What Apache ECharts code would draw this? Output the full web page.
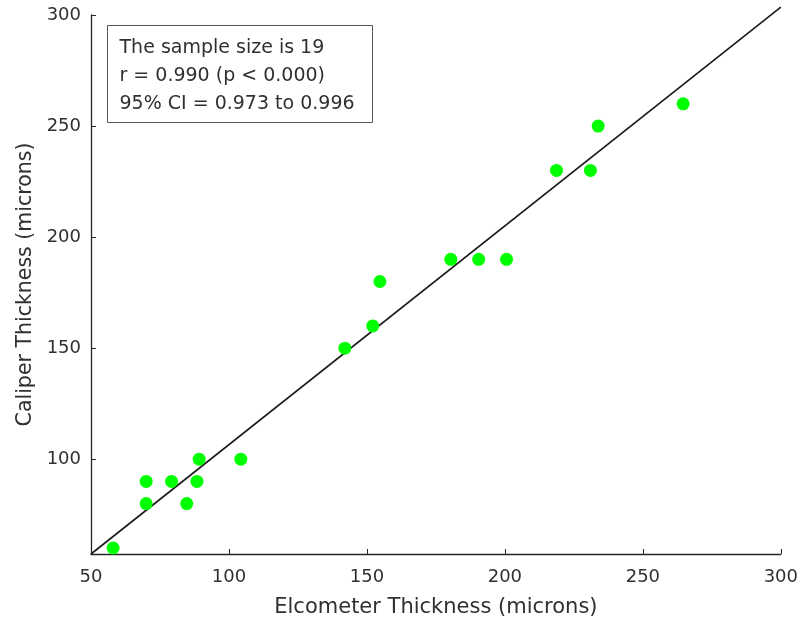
<!DOCTYPE html>
<html>
<head>
<meta charset="utf-8">
<script src="https://cdn.jsdelivr.net/npm/echarts@6/dist/echarts.min.js"></script>
<style>
html,body{margin:0;padding:0;background:#fff;}
#chart{width:801px;height:623px;}
</style>
</head>
<body>
<div id="chart"></div>
<script>
// Data
var elcometer = [58, 70, 70, 79.2, 84.7, 88.4, 89.2, 104.3, 142, 152.1, 154.7, 180.4, 190.5, 200.6, 218.7, 231, 233.8, 264.6];
var caliper   = [60, 90, 80, 90, 80, 90, 100, 100, 150, 160, 180, 190, 190, 190, 230, 230, 250, 260];
var fitX = [50, 300];
var fitY = [57.3, 303.5];
var statsLines = ['The sample size is 19', 'r = 0.990 (p < 0.000)', '95% CI = 0.973 to 0.996'];
var xTitle = 'Elcometer Thickness (microns)';
var yTitle = 'Caliper Thickness (microns)';

var points = elcometer.map(function (x, i) { return [x, caliper[i]]; });
var fitLine = fitX.map(function (x, i) { return [x, fitY[i]]; });

var FONT = 'DejaVu Sans';
var TXT = '#303030';
var AX = '#262626';

var chart = echarts.init(document.getElementById('chart'), null, {renderer: 'canvas'});
chart.setOption({
  backgroundColor: '#ffffff',
  animation: false,
  grid: {left: 91, right: 20, top: 15, bottom: 68, containLabel: false},
  xAxis: {
    type: 'value', min: 50, max: 300, interval: 50,
    name: xTitle, nameLocation: 'middle', nameGap: 43,
    nameTextStyle: {fontFamily: FONT, fontSize: 21, color: TXT},
    axisLine: {show: true, onZero: false, lineStyle: {color: AX, width: 1.3}},
    axisTick: {show: true, inside: true, length: 5, lineStyle: {color: AX}},
    axisLabel: {margin: 14, fontFamily: FONT, fontSize: 18, color: TXT},
    splitLine: {show: false}
  },
  yAxis: {
    type: 'value', min: 57.3, max: 300, splitNumber: 5,
    name: yTitle, nameLocation: 'middle', nameGap: 55,
    nameTextStyle: {fontFamily: FONT, fontSize: 20.5, color: TXT},
    axisLine: {show: true, onZero: false, lineStyle: {color: AX, width: 1.3}},
    axisTick: {show: true, inside: true, length: 5, lineStyle: {color: AX}},
    axisLabel: {margin: 10, fontFamily: FONT, fontSize: 18, color: TXT, showMinLabel: false},
    splitLine: {show: false}
  },
  graphic: [{
    type: 'group', left: 107, top: 25,
    children: [{
      type: 'rect', shape: {x: 0, y: 0, width: 265, height: 97},
      style: {fill: '#ffffff', stroke: '#555555', lineWidth: 1}
    }, {
      type: 'text', x: 12, y: 9,
      style: {text: statsLines.join('\n'), font: '19px "DejaVu Sans"', fill: TXT, lineHeight: 28, verticalAlign: 'top'}
    }]
  }],
  series: [{
    type: 'line', data: fitLine, symbol: 'none', silent: true, clip: false,
    lineStyle: {color: '#1a1a1a', width: 1.6}, z: 2
  }, {
    type: 'scatter', data: points, symbol: 'circle', symbolSize: 13,
    itemStyle: {color: '#00ff00', opacity: 1}, z: 3
  }]
});
</script>
</body>
</html>
